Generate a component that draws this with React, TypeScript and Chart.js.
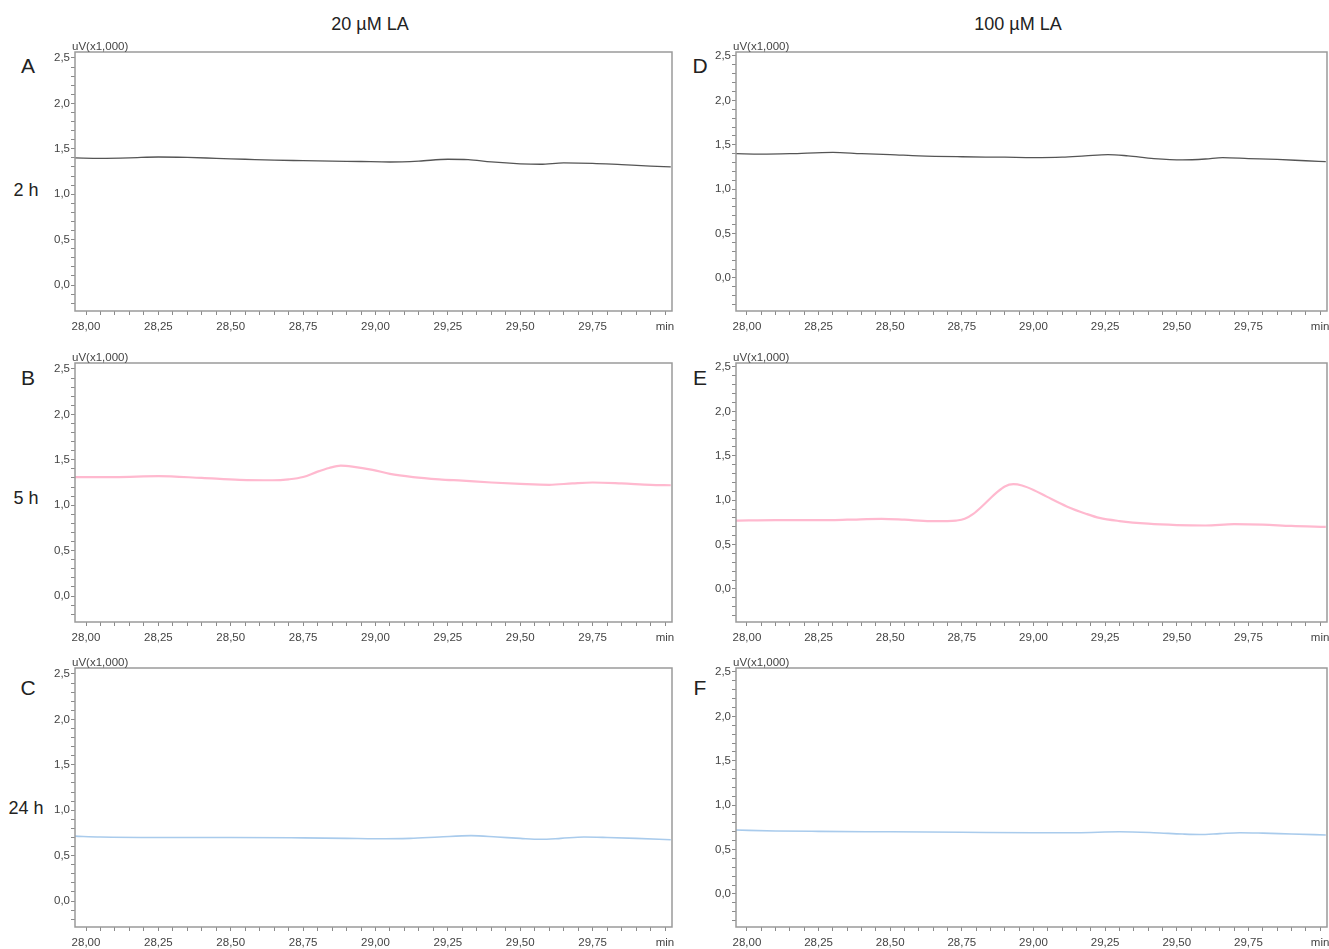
import React, { useEffect, useRef } from "react";
import { Chart, registerables } from "chart.js";

Chart.register(...registerables);

// Retention times (min) and detector signal (uV x1,000) for each chromatogram
const timesA = [27.96, 28.05, 28.15, 28.25, 28.35, 28.45, 28.55, 28.65, 28.75, 28.85, 28.95, 29.05, 29.15, 29.25, 29.32, 29.4, 29.5, 29.57, 29.65, 29.75, 29.85, 29.95, 30.02];
const valuesA = [1.4, 1.395, 1.4, 1.41, 1.405, 1.395, 1.385, 1.375, 1.37, 1.365, 1.36, 1.355, 1.365, 1.385, 1.38, 1.355, 1.335, 1.33, 1.345, 1.34, 1.325, 1.31, 1.3];

const timesB = [27.96, 28.1, 28.25, 28.4, 28.53, 28.645, 28.7, 28.75, 28.8, 28.84, 28.88, 28.92, 28.99, 29.05, 29.13, 29.22, 29.3, 29.4, 29.5, 29.6, 29.68, 29.75, 29.85, 29.95, 30.02];
const valuesB = [1.31, 1.31, 1.32, 1.3, 1.28, 1.275, 1.285, 1.31, 1.37, 1.41, 1.435, 1.425, 1.39, 1.345, 1.31, 1.285, 1.27, 1.25, 1.235, 1.225, 1.24, 1.25, 1.24, 1.225, 1.22];

const timesC = [27.96, 28.05, 28.25, 28.5, 28.75, 28.9, 29.0, 29.12, 29.22, 29.33, 29.42, 29.5, 29.57, 29.64, 29.72, 29.8, 29.9, 30.02];
const valuesC = [0.715, 0.705, 0.7, 0.7, 0.695, 0.69, 0.685, 0.69, 0.705, 0.72, 0.705, 0.69, 0.68, 0.69, 0.705, 0.7, 0.69, 0.675];

const timesD = [27.96, 28.05, 28.15, 28.3, 28.4, 28.5, 28.6, 28.75, 28.9, 29.0, 29.1, 29.18, 29.26, 29.33, 29.42, 29.52, 29.6, 29.66, 29.75, 29.85, 29.95, 30.02];
const valuesD = [1.4, 1.395, 1.4, 1.415, 1.4, 1.39, 1.375, 1.365, 1.36, 1.355, 1.36, 1.375, 1.39, 1.375, 1.345, 1.33, 1.34, 1.355, 1.345, 1.335, 1.32, 1.31];

const timesE = [27.96, 28.1, 28.25, 28.35, 28.47, 28.55, 28.64, 28.7, 28.73, 28.76, 28.79, 28.83, 28.873, 28.9, 28.93, 28.96, 29.0, 29.046, 29.116, 29.185, 29.23, 29.3, 29.4, 29.5, 29.6, 29.7, 29.8, 29.9, 30.02];
const valuesE = [0.77, 0.775, 0.775, 0.78, 0.79, 0.78, 0.765, 0.765, 0.77, 0.79, 0.845, 0.96, 1.09, 1.155, 1.18, 1.165, 1.115, 1.04, 0.93, 0.845, 0.8, 0.765, 0.735, 0.72, 0.715, 0.73, 0.725, 0.71, 0.7];

const timesF = [27.96, 28.1, 28.25, 28.5, 28.75, 29.0, 29.15, 29.3, 29.42, 29.52, 29.58, 29.65, 29.72, 29.8, 29.9, 30.02];
const valuesF = [0.72, 0.71, 0.705, 0.7, 0.695, 0.69, 0.69, 0.7, 0.69, 0.675, 0.67, 0.68, 0.69, 0.685, 0.675, 0.665];

// Axis labels
const columnTitles = ["20 µM LA", "100 µM LA"];
const rowTitles = ["2 h", "5 h", "24 h"];
const panelLetters = ["A", "B", "C", "D", "E", "F"];
const yUnitLabel = "uV(x1,000)";
const xUnitLabel = "min";

const GRAY = "#555555";
const PINK = "#ffb9cf";
const BLUE = "#a9cbec";
const FONT = "'Liberation Sans', Arial, sans-serif";

type PanelProps = {
  left: number;
  top: number;
  width: number;
  height: number;
  yMin: number;
  yMax: number;
  times: number[];
  values: number[];
  color: string;
  lineWidth: number;
};

const Y_AXIS_W = 45;
const X_AXIS_H = 28;
const PAD_TOP = 18;
const PAD_RIGHT = 8;

const framePlugin = {
  id: "frame",
  afterDraw(chart: any) {
    const { ctx, chartArea } = chart;
    ctx.save();
    ctx.strokeStyle = "#9a9a9a";
    ctx.lineWidth = 1.5;
    ctx.strokeRect(chartArea.left, chartArea.top, chartArea.right - chartArea.left, chartArea.bottom - chartArea.top);
    ctx.fillStyle = "#444";
    ctx.font = `11.5px ${FONT}`;
    ctx.textAlign = "left";
    ctx.textBaseline = "alphabetic";
    ctx.fillText(yUnitLabel, chartArea.left - 3, chartArea.top - 2);
    ctx.restore();
  },
};

function fmt(v: number, digits: number) {
  return v.toFixed(digits).replace(".", ",");
}

function Panel(p: PanelProps) {
  const ref = useRef<HTMLCanvasElement>(null);
  useEffect(() => {
    if (!ref.current) return;
    const xMin = 28 - 11 / 289.5;
    const xMax = 30 + 7 / 289.5;
    const chart = new Chart(ref.current, {
      type: "line",
      data: {
        datasets: [
          {
            data: p.times.map((t, i) => ({ x: t, y: p.values[i] })),
            borderColor: p.color,
            borderWidth: p.lineWidth,
            pointRadius: 0,
            cubicInterpolationMode: "monotone",
            fill: false,
          },
        ],
      },
      options: {
        animation: false,
        responsive: false,
        maintainAspectRatio: false,
        events: [],
        layout: { padding: { left: 0, top: PAD_TOP, right: PAD_RIGHT, bottom: 0 } },
        plugins: { legend: { display: false }, tooltip: { enabled: false }, title: { display: false } },
        scales: {
          x: {
            type: "linear",
            min: xMin,
            max: xMax,
            border: { display: false },
            grid: { drawOnChartArea: false, drawTicks: true, tickLength: 4, color: "#8a8a8a", tickWidth: 1 },
            afterBuildTicks: (scale: any) => {
              const t = [];
              for (let i = 0; i <= 40; i++) t.push({ value: Math.round((28 + i * 0.05) * 100) / 100 });
              scale.ticks = t;
            },
            afterFit: (scale: any) => {
              scale.height = X_AXIS_H;
            },
            ticks: {
              autoSkip: false,
              maxRotation: 0,
              minRotation: 0,
              padding: 5,
              color: "#444",
              font: { family: FONT, size: 11.5 },
              callback: (value: any) => {
                const v = Number(value);
                const q = Math.round(v * 100);
                if (q === 3000) return xUnitLabel;
                if (q % 25 === 0) return fmt(v, 2);
                return "";
              },
            },
          },
          y: {
            type: "linear",
            min: p.yMin,
            max: p.yMax,
            border: { display: false },
            grid: { drawOnChartArea: false, drawTicks: true, tickLength: 4, color: "#8a8a8a", tickWidth: 1 },
            afterBuildTicks: (scale: any) => {
              const t = [];
              for (let i = -3; i <= 25; i++) {
                const v = i / 10;
                if (v >= p.yMin && v <= p.yMax) t.push({ value: v });
              }
              scale.ticks = t;
            },
            afterFit: (scale: any) => {
              scale.width = Y_AXIS_W;
            },
            ticks: {
              autoSkip: false,
              padding: 1,
              color: "#444",
              font: { family: FONT, size: 11.5 },
              callback: (value: any) => {
                const q = Math.round(Number(value) * 10);
                return q % 5 === 0 ? fmt(q / 10, 1) : "";
              },
            },
          },
        },
      } as any,
      plugins: [framePlugin],
    });
    return () => chart.destroy();
  }, []);

  const cw = p.width + Y_AXIS_W + PAD_RIGHT;
  const ch = p.height + PAD_TOP + X_AXIS_H;
  return (
    <canvas
      ref={ref}
      width={cw}
      height={ch}
      style={{ position: "absolute", left: p.left - Y_AXIS_W, top: p.top - PAD_TOP, width: cw, height: ch }}
    />
  );
}

const textStyle = (x: number, y: number, size: number): React.CSSProperties => ({
  position: "absolute",
  left: x,
  top: y,
  transform: "translate(-50%, -50%)",
  fontFamily: FONT,
  fontSize: size,
  color: "#222",
  whiteSpace: "nowrap",
  lineHeight: 1,
});

export default function App() {
  const leftCol = { left: 75, width: 597, yMin: -0.286, yMax: 2.566 };
  const rightCol = { left: 736, width: 591, yMin: -0.372, yMax: 2.545 };
  const rows = [52, 363, 668];
  const h = 259;
  const series = [
    [timesA, valuesA, GRAY, 1.3],
    [timesB, valuesB, PINK, 2.2],
    [timesC, valuesC, BLUE, 1.6],
    [timesD, valuesD, GRAY, 1.3],
    [timesE, valuesE, PINK, 2.2],
    [timesF, valuesF, BLUE, 1.6],
  ] as const;

  return (
    <div style={{ position: "absolute", left: 0, top: 0, width: 1329, height: 949, background: "#fff", overflow: "hidden" }}>
      <div style={textStyle(370, 24, 18)}>{columnTitles[0]}</div>
      <div style={textStyle(1018, 24, 18)}>{columnTitles[1]}</div>
      {rowTitles.map((t, i) => (
        <div key={t} style={textStyle(26, [190, 498, 808][i], 18)}>{t}</div>
      ))}
      {panelLetters.map((l, i) => (
        <div key={l} style={textStyle(i < 3 ? 28 : 700, [65, 377, 687][i % 3], 21)}>{l}</div>
      ))}
      {series.map((s, i) => {
        const col = i < 3 ? leftCol : rightCol;
        return (
          <Panel
            key={i}
            left={col.left}
            top={rows[i % 3]}
            width={col.width}
            height={h}
            yMin={col.yMin}
            yMax={col.yMax}
            times={s[0] as number[]}
            values={s[1] as number[]}
            color={s[2]}
            lineWidth={s[3]}
          />
        );
      })}
    </div>
  );
}
